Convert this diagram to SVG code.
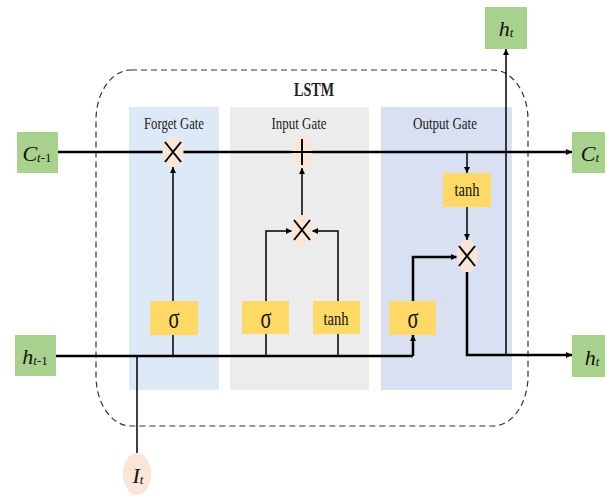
<svg xmlns="http://www.w3.org/2000/svg" width="605" height="496" viewBox="0 0 605 496">
  <defs>
    <marker id="arr" viewBox="0 0 10 10" refX="10" refY="5" markerWidth="6" markerHeight="6" markerUnits="userSpaceOnUse" orient="auto">
      <path d="M0,0 L10,5 L0,10 z" fill="#000"/>
    </marker>
    <style>
      .io { fill: #a9d18e; }
      .act { fill: #ffd966; }
      .op { fill: #fbe5d6; }
      .sym { stroke: #000; stroke-width: 2; fill: none; }
      .ln { stroke: #000; stroke-width: 1.5; fill: none; }
      .thick { stroke: #000; stroke-width: 2.5; fill: none; }
      text { font-family: "Liberation Serif", "DejaVu Serif", "Times New Roman", serif; }
      .lbl { font-size: 16px; fill: #222; text-anchor: middle; }
      .var { font-style: italic; font-size: 22px; fill: #111; text-anchor: middle; }
      .sub { font-size: 13px; }
      .fn { font-size: 18px; fill: #111; text-anchor: middle; }
      .sig { font-size: 30px; fill: #111; text-anchor: middle; }
    </style>
  </defs>

  <!-- gate panels -->
  <rect x="129" y="107" width="90" height="283" fill="#dde9f6"/>
  <rect x="230" y="107" width="139" height="283" fill="#ececec"/>
  <rect x="381" y="107" width="131" height="283" fill="#d8e0f2"/>

  <!-- cell boundary -->
  <rect x="96" y="70" width="432" height="356" rx="35" ry="50" fill="none" stroke="#333" stroke-width="1.2" stroke-dasharray="6,4"/>
  <text x="314" y="96" class="lbl" style="font-weight:bold;font-size:19px" textLength="40" lengthAdjust="spacingAndGlyphs">LSTM</text>
  <text x="174" y="129" class="lbl" textLength="60" lengthAdjust="spacingAndGlyphs">Forget Gate</text>
  <text x="299" y="129" class="lbl" textLength="55" lengthAdjust="spacingAndGlyphs">Input Gate</text>
  <text x="445" y="129" class="lbl" textLength="64" lengthAdjust="spacingAndGlyphs">Output Gate</text>

  <!-- connectors -->
  <g id="connectors">
    <line x1="58" y1="152" x2="572" y2="152" class="thick" marker-end="url(#arr)"/>
    <line x1="56" y1="356" x2="413" y2="356" class="thick"/>
    <line x1="413" y1="356" x2="413" y2="335" class="thick" marker-end="url(#arr)"/>
    <polyline points="467,272 467,355 572,355" class="thick" marker-end="url(#arr)"/>
    <line x1="506" y1="355" x2="506" y2="49" class="ln" marker-end="url(#arr)"/>
    <line x1="137" y1="356" x2="137" y2="453" class="ln"/>
    <line x1="173" y1="356" x2="173" y2="335" class="ln"/>
    <line x1="173" y1="301" x2="173" y2="167" class="ln" marker-end="url(#arr)"/>
    <line x1="266" y1="356" x2="266" y2="334" class="ln"/>
    <line x1="338" y1="356" x2="338" y2="334" class="ln"/>
    <polyline points="266,301 266,231 292,231" class="ln" marker-end="url(#arr)"/>
    <polyline points="338,301 338,231 312,231" class="ln" marker-end="url(#arr)"/>
    <line x1="302" y1="215" x2="302" y2="168" class="ln" marker-end="url(#arr)"/>
    <polyline points="413,301 413,257 457,257" class="thick" marker-end="url(#arr)"/>
    <line x1="467" y1="152" x2="467" y2="173" class="ln" marker-end="url(#arr)"/>
    <line x1="467" y1="207" x2="467" y2="240" class="ln" marker-end="url(#arr)"/>
  </g>

  <!-- inputs / outputs -->
  <g id="c-prev">
    <rect x="17" y="132" width="41" height="41" class="io"/>
    <text x="37" y="161" class="var">C<tspan class="sub" dy="1">t</tspan><tspan class="sub" style="font-style:normal">-1</tspan></text>
  </g>
  <g id="h-prev">
    <rect x="15" y="335" width="41" height="41" class="io"/>
    <text x="35" y="364" class="var">h<tspan class="sub" dy="1">t</tspan><tspan class="sub" style="font-style:normal">-1</tspan></text>
  </g>
  <g id="c-out">
    <rect x="572" y="132" width="33" height="41" class="io"/>
    <text x="590" y="161" class="var">C<tspan class="sub" dy="1">t</tspan></text>
  </g>
  <g id="h-out">
    <rect x="572" y="335" width="33" height="42" class="io"/>
    <text x="592" y="365" class="var">h<tspan class="sub" dy="1">t</tspan></text>
  </g>
  <g id="h-top">
    <rect x="485" y="7" width="42" height="42" class="io"/>
    <text x="506" y="36" class="var">h<tspan class="sub" dy="1">t</tspan></text>
  </g>
  <g id="x-in">
    <ellipse cx="137" cy="474" rx="14" ry="21" class="op"/>
    <text x="138" y="483" class="var">I<tspan class="sub" dy="1">t</tspan></text>
  </g>

  <!-- pointwise operations -->
  <g id="forget-mul">
    <ellipse cx="173" cy="152" rx="10.5" ry="15" class="op"/>
    <path d="M165,142 L181,162 M181,142 L165,162" class="sym"/>
  </g>
  <g id="input-add">
    <ellipse cx="302" cy="152" rx="10.5" ry="16" class="op"/>
    <path d="M302,139 L302,165 M291,152 L313,152" class="sym"/>
  </g>
  <g id="input-mul">
    <ellipse cx="302" cy="230" rx="10.5" ry="15" class="op"/>
    <path d="M294,220 L310,240 M310,220 L294,240" class="sym"/>
  </g>
  <g id="output-mul">
    <ellipse cx="467" cy="256" rx="10.5" ry="16" class="op"/>
    <path d="M459,246 L475,266 M475,246 L459,266" class="sym"/>
  </g>

  <!-- activations -->
  <g id="forget-sigmoid">
    <rect x="150" y="301" width="48" height="34" class="act"/>
    <text x="174" y="328" class="sig" textLength="11" lengthAdjust="spacingAndGlyphs">σ</text>
  </g>
  <g id="input-sigmoid">
    <rect x="242" y="301" width="47" height="33" class="act"/>
    <text x="266" y="328" class="sig" textLength="11" lengthAdjust="spacingAndGlyphs">σ</text>
  </g>
  <g id="input-tanh">
    <rect x="313" y="301" width="47" height="33" class="act"/>
    <text x="336" y="325" class="fn" textLength="25" lengthAdjust="spacingAndGlyphs">tanh</text>
  </g>
  <g id="output-sigmoid">
    <rect x="389" y="301" width="47" height="34" class="act"/>
    <text x="413" y="328" class="sig" textLength="11" lengthAdjust="spacingAndGlyphs">σ</text>
  </g>
  <g id="output-tanh">
    <rect x="443" y="173" width="48" height="34" class="act"/>
    <text x="467" y="196" class="fn" textLength="25" lengthAdjust="spacingAndGlyphs">tanh</text>
  </g>
</svg>
